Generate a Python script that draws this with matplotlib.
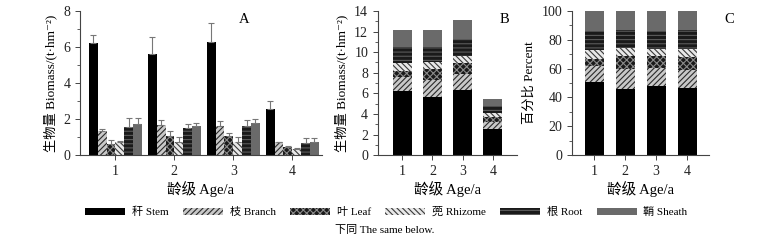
import numpy as np
import matplotlib
matplotlib.use("Agg")
import matplotlib.pyplot as plt
from matplotlib.patches import Patch
from matplotlib.ticker import MultipleLocator

plt.rcParams['font.family'] = ['Liberation Serif', 'Noto Sans CJK SC', 'DejaVu Sans']
plt.rcParams['hatch.linewidth'] = 0.8
plt.rcParams['axes.unicode_minus'] = False

# data
ages = [1, 2, 3, 4]
organs = ["秆 Stem", "枝 Branch", "叶 Leaf", "蔸 Rhizome", "根 Root", "鞘 Sheath"]
stem = [6.2, 5.6, 6.3, 2.55]
branch = [1.35, 1.67, 1.62, 0.71]
leaf = [0.62, 1.06, 1.04, 0.47]
rhizome = [0.74, 0.71, 0.71, 0.33]
root = [1.58, 1.49, 1.64, 0.69]
sheath = [1.71, 1.64, 1.77, 0.74]
# upper error (sd) of each mean
stem_err = [0.46, 0.93, 1.06, 0.45]
branch_err = [0.08, 0.28, 0.30, 0.03]
leaf_err = [0.20, 0.28, 0.17, 0.03]
rhizome_err = [0.04, 0.31, 0.31, 0.08]
root_err = [0.49, 0.24, 0.31, 0.24]
sheath_err = [0.35, 0.13, 0.23, 0.19]

values = np.array([stem, branch, leaf, rhizome, root, sheath])
errors = np.array([stem_err, branch_err, leaf_err, rhizome_err, root_err, sheath_err])

# fill styles per organ: (face, hatch colour, hatch)
styles = [("#000000", "#000000", None),
          ("#c8c8c8", "#2a2a2a", "//////"),
          ("#1a1a1a", "#8a8a8a", "xxxxx"),
          ("#e8e8e8", "#3a3a3a", "\\\\\\\\\\\\"),
          ("#1a1a1a", "#5a5a5a", "----"),
          ("#6a6a6a", "#6a6a6a", None)]

fig = plt.figure(figsize=(7.65, 2.45), dpi=100)
axA = fig.add_axes([0.1046, 0.367, 0.316, 0.588])
axB = fig.add_axes([0.494, 0.367, 0.182, 0.588])
axC = fig.add_axes([0.748, 0.367, 0.179, 0.588])

fs_tick = 10
fs_lab = 10.5
fs_ylab = 9.5
bio_label = "生物量 Biomass/(t·hm⁻²)"

def style_axis(ax):
    for s in ["top", "right"]:
        ax.spines[s].set_visible(False)
    for s in ["left", "bottom"]:
        ax.spines[s].set_color("#444444")
        ax.spines[s].set_linewidth(0.8)
    ax.tick_params(direction="out", length=3.5, width=0.7, colors="#444444", labelsize=fs_tick, labelcolor="#222222")
    ax.tick_params(which="minor", direction="out", length=2, width=0.6, colors="#444444")
    ax.set_xticks(ages)
    ax.set_xlabel("龄级 Age/a", fontsize=fs_lab, labelpad=2)

x = np.array(ages, dtype=float)

# A: grouped bars with upper error bars
w = 0.15
for i in range(6):
    fc, hc, h = styles[i]
    pos = x + (i - 2.5) * w
    axA.bar(pos, values[i], w, facecolor=fc, edgecolor=hc, hatch=h, linewidth=0)
    axA.errorbar(pos, values[i], yerr=[np.zeros(4), errors[i]], fmt="none",
                 ecolor="#777777", elinewidth=0.8, capsize=2.5, capthick=0.8)
axA.set_xlim(0.4, 4.5)
axA.set_ylim(0, 8)
axA.yaxis.set_major_locator(MultipleLocator(2))
axA.yaxis.set_minor_locator(MultipleLocator(1))
axA.set_ylabel(bio_label, fontsize=fs_ylab, labelpad=4)
axA.text(0.68, 0.94, "A", transform=axA.transAxes, fontsize=fs_lab, ha="center", va="center")
style_axis(axA)

# B: stacked biomass
bottom = np.zeros(4)
for i in range(6):
    fc, hc, h = styles[i]
    axB.bar(x, values[i], 0.63, bottom=bottom, facecolor=fc, edgecolor=hc, hatch=h, linewidth=0)
    bottom += values[i]
axB.set_xlim(0.2, 4.8)
axB.set_ylim(0, 14)
axB.yaxis.set_major_locator(MultipleLocator(2))
axB.yaxis.set_minor_locator(MultipleLocator(1))
axB.set_ylabel(bio_label, fontsize=fs_ylab, labelpad=4)
axB.text(0.91, 0.94, "B", transform=axB.transAxes, fontsize=fs_lab, ha="center", va="center")
style_axis(axB)

# C: stacked percent
pct = values / values.sum(axis=0) * 100
bottom = np.zeros(4)
for i in range(6):
    fc, hc, h = styles[i]
    axC.bar(x, pct[i], 0.62, bottom=bottom, facecolor=fc, edgecolor=hc, hatch=h, linewidth=0)
    bottom += pct[i]
axC.set_xlim(0.29, 4.71)
axC.set_ylim(0, 100)
axC.yaxis.set_major_locator(MultipleLocator(20))
axC.yaxis.set_minor_locator(MultipleLocator(10))
axC.set_ylabel("百分比 Percent", fontsize=fs_ylab, labelpad=4)
axC.text(1.15, 0.94, "C", transform=axC.transAxes, fontsize=fs_lab, ha="center", va="center")
style_axis(axC)

handles = [Patch(facecolor=fc, edgecolor=hc, hatch=h, linewidth=0, label=lab)
           for (fc, hc, h), lab in zip(styles, organs)]
fig.legend(handles=handles, loc="center", bbox_to_anchor=(0.505, 0.135), ncol=6, frameon=False,
           fontsize=8, handlelength=3.6, handleheight=0.6, handletextpad=0.6, columnspacing=1.3)
fig.text(0.503, 0.06, "下同 The same below.", fontsize=8, ha="center", va="center")

fig.savefig("out.png", dpi=100)
